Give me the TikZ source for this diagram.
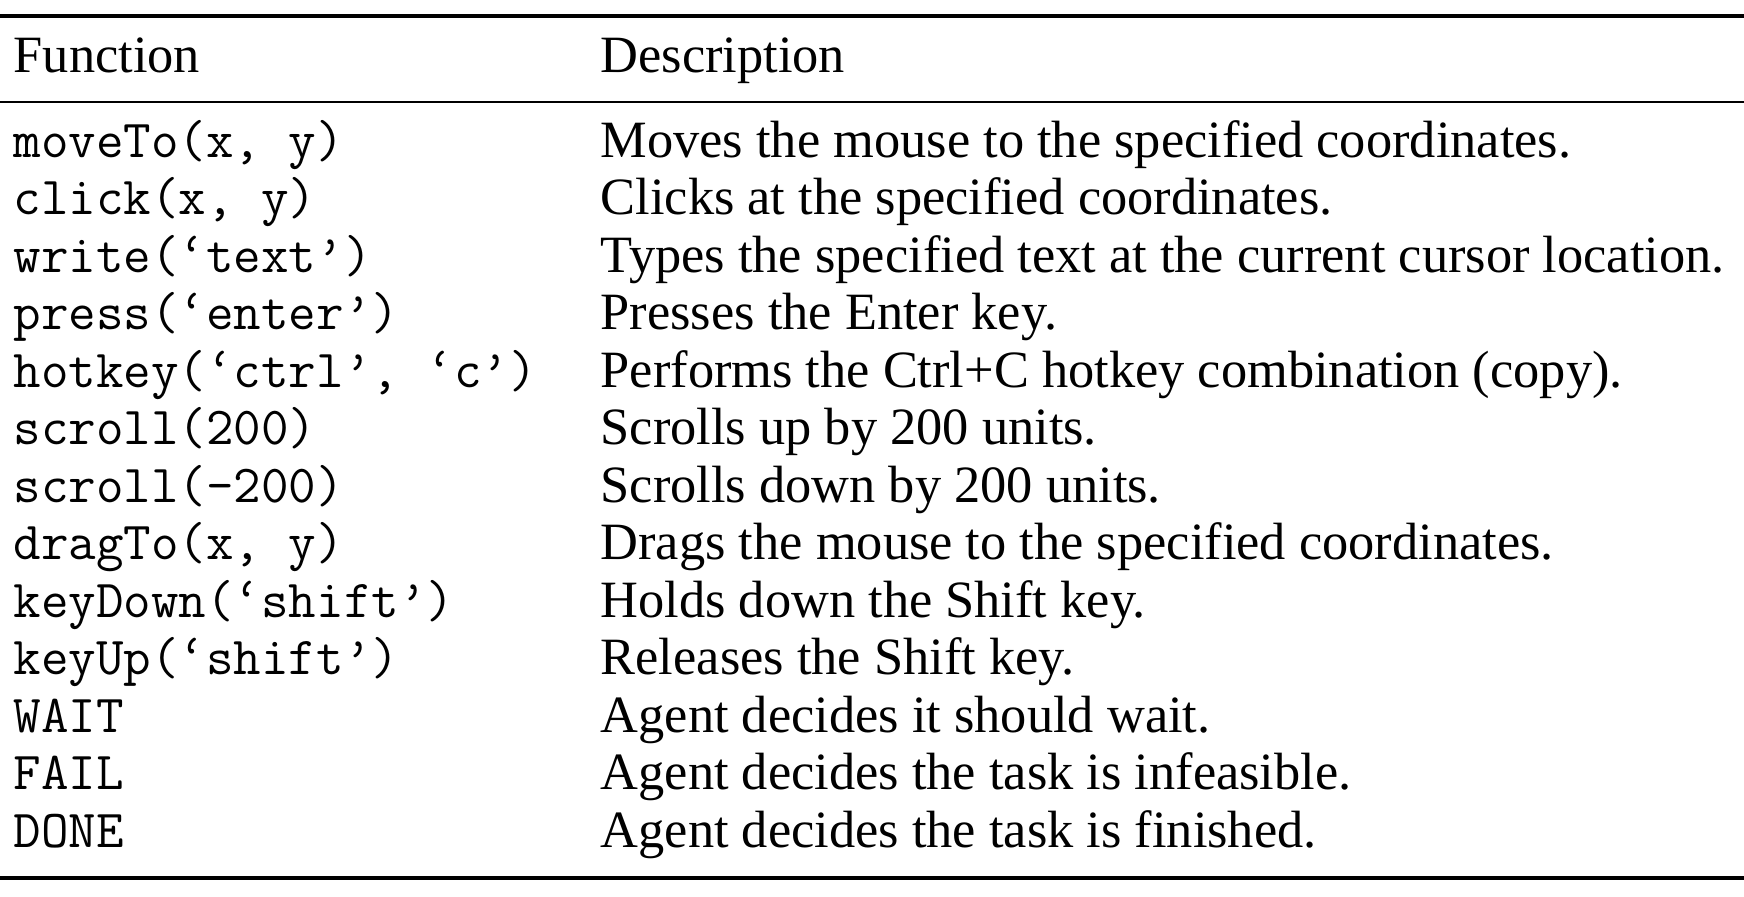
\documentclass[tikz,border=0pt]{standalone}
\usepackage{fontspec}
\setmainfont{Liberation Serif}
\usepackage{tikz}
\tikzset{
  cell/.style={anchor=base west, inner sep=0pt, font=\fontsize{14.9}{17}\selectfont},
  code/.style={cell, font=\fontsize{15.2}{17}\selectfont\ttfamily},
  toprule/.style={line width=1pt},
  midrule/.style={line width=0.5pt}
}
\begin{document}
\begin{tikzpicture}[x=0.01cm, y=-0.01cm]
  \useasboundingbox (0,0) rectangle (1744,896);

  % Rules
  \draw[toprule] (0,16) -- (1744,16);
  \draw[midrule] (0,102) -- (1744,102);
  \draw[toprule] (0,878) -- (1744,878);

  % Header
  \node[cell] (hf) at (13,72) {Function};
  \node[cell] (hd) at (600,72) {Description};

  % Rows
  \foreach \f/\d [count=\i from 0] in {
    {moveTo(x, y)}/{Moves the mouse to the specified coordinates.},
    {click(x, y)}/{Clicks at the specified coordinates.},
    {write(‘text’)}/{Types the specified text at the current cursor location.},
    {press(‘enter’)}/{Presses the Enter key.},
    {hotkey(‘ctrl’, ‘c’)}/{Performs the Ctrl+C hotkey combination (copy).},
    {scroll(200)}/{Scrolls up by 200 units.},
    {scroll(-200)}/{Scrolls down by 200 units.},
    {dragTo(x, y)}/{Drags the mouse to the specified coordinates.},
    {keyDown(‘shift’)}/{Holds down the Shift key.},
    {keyUp(‘shift’)}/{Releases the Shift key.},
    {WAIT}/{Agent decides it should wait.},
    {FAIL}/{Agent decides the task is infeasible.},
    {DONE}/{Agent decides the task is finished.}}
  {
    \node[code] (f\i) at (13,{157+57.5*\i}) {\f};
    \node[cell] (d\i) at (600,{157+57.5*\i}) {\d};
  }
\end{tikzpicture}
\end{document}
